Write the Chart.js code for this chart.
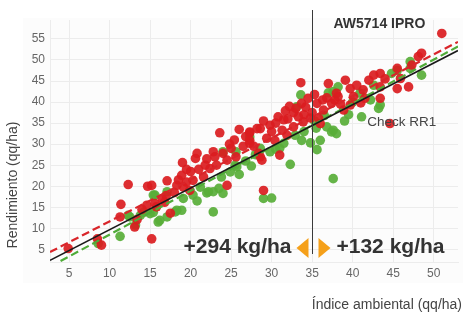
<!DOCTYPE html>
<html>
<head>
<meta charset="utf-8">
<script src="https://cdn.jsdelivr.net/npm/chart.js@4"></script>
<style>
html,body{margin:0;padding:0;background:#fff;}
#wrap{width:463px;height:315px;position:relative;}
</style>
</head>
<body>
<div id="wrap"><canvas id="c" width="463" height="315"></canvas></div>
<script>
// ---- data ----
const xTicks = [5,10,15,20,25,30,35,40,45,50];
const yTicks = [5,10,15,20,25,30,35,40,45,50,55];

const redX = [4.9,8.5,9.0,11.3,11.4,12.3,13.1,13.4,14.6,14.7,15.2,15.6,15.2,15.8,16.5,17.1,17.5,18.3,18.9,19.0,19.1,19.5,19.9,20.3,20.6,20.8,21.6,22.4,22.8,23.2,23.6,24.0,24.5,24.5,25.4,25.6,26.5,27.3,27.3,27.3,27.3,28.2,28.4,28.6,28.6,28.8,29.0,29.4,29.8,30.4,30.8,31.0,31.3,31.7,31.9,32.7,32.7,33.6,33.7,33.9,34.5,35.6,36.0,36.4,37.0,37.4,37.8,38.0,38.2,38.9,39.1,39.7,39.7,40.1,41.3,41.5,42.0,42.6,43.4,43.4,43.4,44.6,45.5,45.5,45.9,46.9,47.3,48.1,48.5,51.0,32.0,33.0,34.0,35.0,34.8,36.8,35.3,30.0,29.0,26.0,25.0,22.0,21.0,20.0,18.0,17.0,30.5,31.5,32.2,33.3,34.2,35.8,36.3,38.5,40.5,41.0,44.0,27.8,26.8,24.8,23.0,21.8,19.5,18.5,16.8,14.0];
const redY = [5.2,7.5,6.0,12.7,15.7,20.4,10.3,12.1,15.5,20.0,7.5,15.9,20.2,15.1,17.0,21.3,13.6,20.2,22.6,25.6,19.8,21.0,19.0,21.4,26.6,27.8,22.2,24.2,28.2,25.0,32.7,27.8,26.2,20.2,31.0,27.0,29.5,32.7,30.2,32.9,30.9,33.7,27.8,33.7,27.0,26.2,19.0,31.4,34.5,30.9,36.5,27.4,33.3,37.9,32.1,37.5,34.1,44.6,39.7,35.3,40.9,39.7,34.9,38.1,44.4,39.7,40.5,42.1,41.3,38.1,45.2,43.2,39.3,41.3,42.9,40.9,45.2,46.4,46.8,43.6,40.9,34.9,48.0,43.2,45.6,43.6,48.8,50.8,51.6,56.3,36.0,38.5,37.0,37.5,36.2,41.0,41.8,33.0,35.5,33.5,29.0,26.5,24.0,23.5,18.5,17.8,35.0,35.8,39.0,36.5,38.8,36.2,40.5,39.5,44.0,39.8,45.5,29.5,31.8,30.0,27.0,25.0,24.0,21.5,16.2,14.5];

const greenX = [8.6,11.3,12.3,12.5,13.8,15.0,15.4,15.4,16.0,15.6,16.2,17.1,17.1,18.1,18.3,18.9,19.1,20.3,21.2,22.0,22.2,22.8,22.8,23.8,24.0,24.0,24.9,25.5,25.6,25.7,27.3,28.6,29.0,29.8,30.0,31.0,31.5,32.3,32.9,33.1,33.6,33.7,34.8,35.6,36.0,36.8,37.0,37.4,37.6,37.6,37.6,38.0,38.2,40.9,41.1,42.2,42.6,43.2,43.4,44.8,47.1,47.1,48.5,13.2,14.2,26.8,27.5,35.3,36.5,39.5,20.8,23.5,26.0,28.0,30.5,34.0,35.5,39.0,40.0,45.5];
const greenY = [6.4,8.1,13.1,12.7,13.1,13.5,13.8,17.9,11.5,17.9,11.9,12.7,18.7,13.9,14.3,14.3,17.1,17.9,19.8,18.4,18.7,18.7,13.9,22.2,18.3,28.2,23.4,25.0,28.2,24.6,31.7,29.0,17.1,28.2,17.2,29.0,30.2,25.2,32.1,38.9,41.7,30.9,30.3,28.7,30.9,34.1,42.2,32.9,33.3,42.5,21.8,32.5,43.6,42.1,36.5,40.5,44.0,38.5,39.3,46.8,48.0,49.6,46.4,10.8,13.8,26.0,24.8,35.5,36.8,37.0,16.5,19.5,22.8,27.5,28.8,33.0,33.8,35.5,40.0,47.5];

// regression lines (start / end)
const lineX = [2.65, 53.0];
const blackLineY = [2.38, 52.25];
const redLineY = [4.36, 54.3];
const greenLineY = [0.87, 53.2];

const splitX = 35;
const labelVariety = 'AW5714 IPRO';
const labelCheck = 'Check RR1';
const checkPos = [41.8, 35.2];
const gainLeft = '+294 kg/ha';
const gainRight = '+132 kg/ha';
const xTitle = 'Índice ambiental (qq/ha)';
const yTitle = 'Rendimiento (qq/ha)';

// ---- build ----
const toPts = (xs, ys) => xs.map((x, i) => ({x, y: ys[i]}));
const FONT = "'Liberation Sans', Arial, sans-serif";

const bgPlugin = {
  id: 'bg',
  beforeDraw(chart) {
    const ctx = chart.ctx;
    ctx.save();
    ctx.fillStyle = '#ffffff';
    ctx.fillRect(0, 0, chart.width, chart.height);
    ctx.fillStyle = '#fcfcfc';
    ctx.fillRect(23, 18, chart.width - 23, 265);
    ctx.restore();
  }
};

const annoPlugin = {
  id: 'anno',
  afterDraw(chart) {
    const ctx = chart.ctx;
    const xs = chart.scales.x, ys = chart.scales.y;
    const px = Math.round(xs.getPixelForValue(splitX)) + 0.5;
    ctx.save();
    ctx.strokeStyle = '#3a3a3a';
    ctx.lineWidth = 1;
    ctx.beginPath();
    ctx.moveTo(px, 10);
    ctx.lineTo(px, 254);
    ctx.stroke();

    ctx.fillStyle = '#333';
    ctx.textBaseline = 'middle';
    ctx.font = 'bold 14px ' + FONT;
    ctx.textAlign = 'left';
    ctx.fillText(labelVariety, px + 21, 24);

    ctx.font = '13.5px ' + FONT;
    ctx.fillStyle = '#444';
    ctx.fillText(labelCheck, xs.getPixelForValue(checkPos[0]), ys.getPixelForValue(checkPos[1]));

    ctx.fillStyle = '#333';
    ctx.font = 'bold 21px ' + FONT;
    ctx.textAlign = 'right';
    ctx.fillText(gainLeft, px - 21, 247);
    ctx.textAlign = 'left';
    ctx.fillText(gainRight, px + 24, 247);

    ctx.fillStyle = '#f5a01a';
    ctx.beginPath();
    ctx.moveTo(px - 16, 248);
    ctx.lineTo(px - 4, 238);
    ctx.lineTo(px - 4, 258);
    ctx.closePath();
    ctx.fill();
    ctx.beginPath();
    ctx.moveTo(px + 18, 248);
    ctx.lineTo(px + 6, 238);
    ctx.lineTo(px + 6, 258);
    ctx.closePath();
    ctx.fill();

    ctx.fillStyle = '#444';
    ctx.font = '14px ' + FONT;
    ctx.textAlign = 'right';
    ctx.fillText(xTitle, 462, 305);
    ctx.translate(13, 185);
    ctx.rotate(-Math.PI / 2);
    ctx.textAlign = 'center';
    ctx.fillText(yTitle, 0, 0);
    ctx.restore();
  }
};

new Chart(document.getElementById('c'), {
  type: 'scatter',
  data: {
    datasets: [
      {type: 'line', data: toPts(lineX, blackLineY), borderColor: '#1a1a1a', borderWidth: 1.6, pointRadius: 0, order: 0},
      {type: 'line', data: toPts(lineX, redLineY), borderColor: '#d9252a', borderWidth: 2.2, borderDash: [8, 4], pointRadius: 0, order: 0},
      {type: 'line', data: toPts(lineX, greenLineY), borderColor: '#4fab38', borderWidth: 2.2, borderDash: [8, 4], pointRadius: 0, order: 0},
      {data: toPts(redX, redY), backgroundColor: 'rgba(218,28,32,0.92)', borderWidth: 0, pointRadius: 4.8, order: 1},
      {data: toPts(greenX, greenY), backgroundColor: 'rgba(88,174,56,0.92)', borderWidth: 0, pointRadius: 4.8, order: 2}
    ]
  },
  options: {
    responsive: false,
    animation: false,
    events: [],
    layout: {padding: {left: 0, right: 5, top: 20, bottom: 0}},
    plugins: {legend: {display: false}, tooltip: {enabled: false}},
    scales: {
      x: {
        type: 'linear', min: 2.65, max: 53.0,
        afterBuildTicks: s => { s.ticks = xTicks.map(v => ({value: v})); },
        afterFit: s => { s.height = 53; },
        grid: {color: '#ececec', drawTicks: false},
        border: {display: true, color: '#ececec'},
        ticks: {padding: 4, color: '#666', font: {family: FONT, size: 12}}
      },
      y: {
        type: 'linear', min: 2, max: 59.5,
        afterBuildTicks: s => { s.ticks = yTicks.map(v => ({value: v})); },
        afterFit: s => { s.width = 50; },
        grid: {color: '#ececec', drawTicks: false},
        border: {display: true, color: '#ececec'},
        ticks: {padding: 5, color: '#666', font: {family: FONT, size: 12}}
      }
    }
  },
  plugins: [bgPlugin, annoPlugin]
});
</script>
</body>
</html>
